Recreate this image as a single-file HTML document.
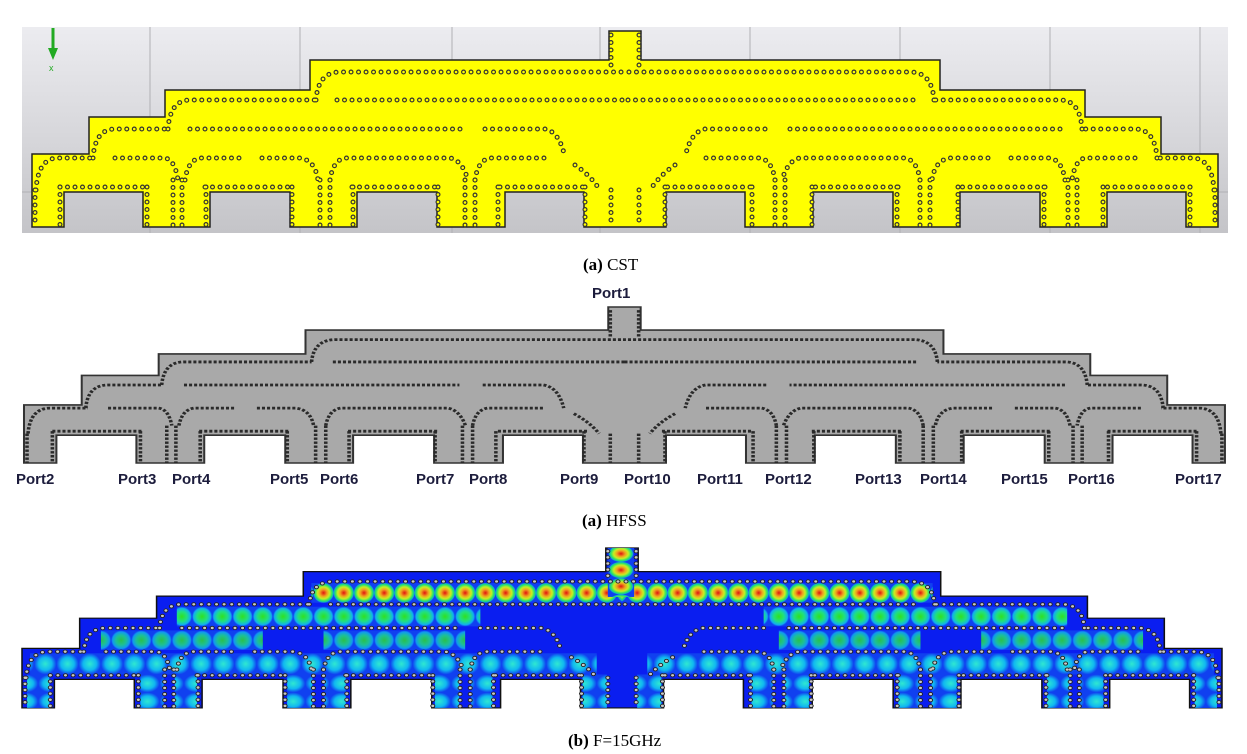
<!DOCTYPE html>
<html><head><meta charset="utf-8">
<style>
html,body{margin:0;padding:0;background:#fff;}
svg{display:block;}
.cap{font-family:"Liberation Serif",serif;font-size:17px;fill:#000;}
.port{font-family:"Liberation Sans",sans-serif;font-weight:bold;font-size:15px;fill:#1c1c3c;}
</style></head><body>
<svg width="1247" height="754" viewBox="0 0 1247 754" xmlns="http://www.w3.org/2000/svg">
<defs>
<linearGradient id="bg1" x1="0" y1="0" x2="0" y2="1">
<stop offset="0" stop-color="#ececf0"/><stop offset="1" stop-color="#c4c4c8"/></linearGradient>
<polygon id="outline" points="32,227 32,154 89,154 89,117 165,117 165,90 310,90 310,60 609,60 609,31 641,31 641,60 940,60 940,90 1085,90 1085,117 1161,117 1161,154 1218,154 1218,227 1186,227 1186,192 1107,192 1107,227 1040,227 1040,192 960,192 960,227 893,227 893,192 813,192 813,227 745,227 745,192 666,192 666,227 584,227 584,192 505,192 505,227 437,227 437,192 357,192 357,227 290,227 290,192 210,192 210,227 143,227 143,192 64,192 64,227"/>
<g id="half" fill="none">
<path d="M316,100 Q318,72 340,72 L625,72"/>
<path d="M168,129 Q170,100 190,100 L316,100 M337,100 L625,100"/>
<path d="M93,158 Q95,129 115,129 L168,129 M190,129 L462,129 M485,129 L545,129 Q560,132 565,158"/>
<path d="M36,190 Q38,158 58,158 L95,158 M115,158 L165,158 Q175,160 178,180 M185,180 Q188,160 200,158 L240,158 M262,158 L300,158 Q315,160 318,180 M330,180 Q333,160 345,158 L450,158 Q462,160 468,180 M475,180 Q478,160 490,158 L545,158 M575,165 Q590,175 600,190"/>
<path d="M60,187 L150,187 M205,187 L295,187 M352,187 L440,187 M500,187 L590,187"/>
<path d="M35,190 L35,227 M60,187 L60,227 M147,187 L147,227 M173,180 L173,227 M182,180 L182,227 M206,187 L206,227 M292,187 L292,227 M320,180 L320,227 M330,180 L330,227 M353,187 L353,227 M438,187 L438,227 M465,180 L465,227 M475,180 L475,227 M498,187 L498,227 M585,187 L585,227 M611,190 L611,227 M611,35 L611,70"/>
</g>
<g id="dots"><use href="#half"/><use href="#half" transform="translate(1250,0) scale(-1,1)"/></g>

<radialGradient id="gHot"><stop offset="0" stop-color="#e01010"/><stop offset="0.35" stop-color="#f0a020"/><stop offset="0.6" stop-color="#c8f020"/><stop offset="0.85" stop-color="#20e070"/><stop offset="1" stop-color="#10a0e0"/></radialGradient>
<radialGradient id="gGreen"><stop offset="0" stop-color="#30e020"/><stop offset="0.5" stop-color="#20e080"/><stop offset="0.85" stop-color="#10b0f0"/><stop offset="1" stop-color="#1040f0"/></radialGradient>
<radialGradient id="gCyan"><stop offset="0" stop-color="#30e8d0"/><stop offset="0.6" stop-color="#10b8f0"/><stop offset="1" stop-color="#1040f0"/></radialGradient>
<pattern id="pHot" patternUnits="userSpaceOnUse" x="0" y="74" width="20" height="24"><rect width="20" height="24" fill="#1040f0"/><ellipse cx="10" cy="12" rx="10" ry="12" fill="url(#gHot)"/></pattern>
<pattern id="pGreen" patternUnits="userSpaceOnUse" x="0" y="103" width="20" height="24"><rect width="20" height="24" fill="#1040f0"/><ellipse cx="10" cy="12" rx="10" ry="12" fill="url(#gGreen)"/></pattern>
<pattern id="pCyan3" patternUnits="userSpaceOnUse" x="0" y="132" width="20" height="24"><rect width="20" height="24" fill="#1040f0"/><ellipse cx="10" cy="12" rx="10" ry="12" fill="url(#gGreen)" opacity="0.8"/></pattern>
<pattern id="pCyan" patternUnits="userSpaceOnUse" x="0" y="160" width="22" height="26"><rect width="22" height="26" fill="#1040f0"/><ellipse cx="11" cy="13" rx="11" ry="13" fill="url(#gCyan)"/></pattern>
<pattern id="pLeg" patternUnits="userSpaceOnUse" x="0" y="186" width="24" height="22"><rect width="24" height="22" fill="#1040f0"/><ellipse cx="12" cy="11" rx="12" ry="11" fill="url(#gCyan)"/></pattern>
<pattern id="pTab" patternUnits="userSpaceOnUse" x="611" y="28" width="26" height="20"><rect width="26" height="20" fill="#1040f0"/><ellipse cx="13" cy="10" rx="12" ry="10" fill="url(#gHot)"/></pattern>
<g id="heatHalf">
<rect x="318" y="74" width="307" height="24" fill="url(#pHot)"/>
<rect x="185" y="103" width="300" height="24" fill="url(#pGreen)"/>
<rect x="110" y="132" width="160" height="24" fill="url(#pCyan3)"/>
<rect x="330" y="132" width="140" height="24" fill="url(#pCyan3)"/>
<rect x="40" y="160" width="560" height="26" fill="url(#pCyan)"/>
<rect x="37" y="186" width="22" height="41" fill="url(#pLeg)"/>
<rect x="149" y="186" width="23" height="41" fill="url(#pLeg)"/>
<rect x="183" y="186" width="22" height="41" fill="url(#pLeg)"/>
<rect x="294" y="186" width="25" height="41" fill="url(#pLeg)"/>
<rect x="331" y="186" width="21" height="41" fill="url(#pLeg)"/>
<rect x="440" y="186" width="24" height="41" fill="url(#pLeg)"/>
<rect x="476" y="186" width="21" height="41" fill="url(#pLeg)"/>
<rect x="586" y="186" width="24" height="41" fill="url(#pLeg)"/>
</g>
</defs>

<!-- Panel 1: CST -->
<rect x="22" y="27" width="1206" height="206" fill="url(#bg1)"/>
<g stroke="#b0b0b4" stroke-width="1">
<line x1="150" y1="27" x2="150" y2="233"/><line x1="300" y1="27" x2="300" y2="233"/><line x1="452" y1="27" x2="452" y2="233"/><line x1="600" y1="27" x2="600" y2="233"/><line x1="750" y1="27" x2="750" y2="233"/><line x1="900" y1="27" x2="900" y2="233"/><line x1="1050" y1="27" x2="1050" y2="233"/><line x1="1200" y1="27" x2="1200" y2="233"/>
<line x1="22" y1="192" x2="1228" y2="192"/>
</g>
<use href="#outline" fill="#ffff00" stroke="#222" stroke-width="1.5"/>
<use href="#dots" stroke="#333" stroke-width="5" stroke-dasharray="0 7.5" stroke-linecap="round"/>
<use href="#dots" stroke="#ffff00" stroke-width="2.6" stroke-dasharray="0 7.5" stroke-linecap="round"/>
<line x1="53" y1="28" x2="53" y2="55" stroke="#22aa22" stroke-width="3"/>
<polygon points="48,48 58,48 53,60" fill="#22aa22"/>
<text x="49" y="71" font-family="Liberation Sans,sans-serif" font-size="9" fill="#22aa22">x</text>
<text x="583" y="270" class="cap"><tspan font-weight="bold">(a)</tspan> CST</text>

<!-- Panel 2: HFSS -->
<g transform="translate(24,307) scale(1.0126,0.796) translate(-32,-31)">
<use href="#outline" fill="#a9a9a9" stroke="#333" stroke-width="2"/>
<use href="#dots" stroke="#2a2a2a" stroke-width="3.5" stroke-dasharray="3 2"/>
</g>
<text x="592" y="298" class="port">Port1</text>
<g class="port">
<text x="16" y="484">Port2</text><text x="118" y="484">Port3</text><text x="172" y="484">Port4</text><text x="270" y="484">Port5</text><text x="320" y="484">Port6</text><text x="416" y="484">Port7</text><text x="469" y="484">Port8</text><text x="560" y="484">Port9</text><text x="624" y="484">Port10</text><text x="697" y="484">Port11</text><text x="765" y="484">Port12</text><text x="855" y="484">Port13</text><text x="920" y="484">Port14</text><text x="1001" y="484">Port15</text><text x="1068" y="484">Port16</text><text x="1175" y="484">Port17</text>
</g>
<text x="582" y="526" class="cap"><tspan font-weight="bold">(a)</tspan> HFSS</text>

<!-- Panel 3: field -->
<g transform="translate(22,548) scale(1.0118,0.816) translate(-32,-31)">
<use href="#outline" fill="#0a1ef0" stroke="#111" stroke-width="1.5"/>
<use href="#heatHalf"/>
<use href="#heatHalf" transform="translate(1250,0) scale(-1,1)"/>
<rect x="611" y="31" width="26" height="60" fill="url(#pTab)"/>
<use href="#dots" stroke="#222" stroke-width="5" stroke-dasharray="0 7.5" stroke-linecap="round"/>
<use href="#dots" stroke="#c8c8c8" stroke-width="3" stroke-dasharray="0 7.5" stroke-linecap="round"/>
</g>
<text x="568" y="746" class="cap"><tspan font-weight="bold">(b)</tspan> F=15GHz</text>
</svg>
</body></html>
